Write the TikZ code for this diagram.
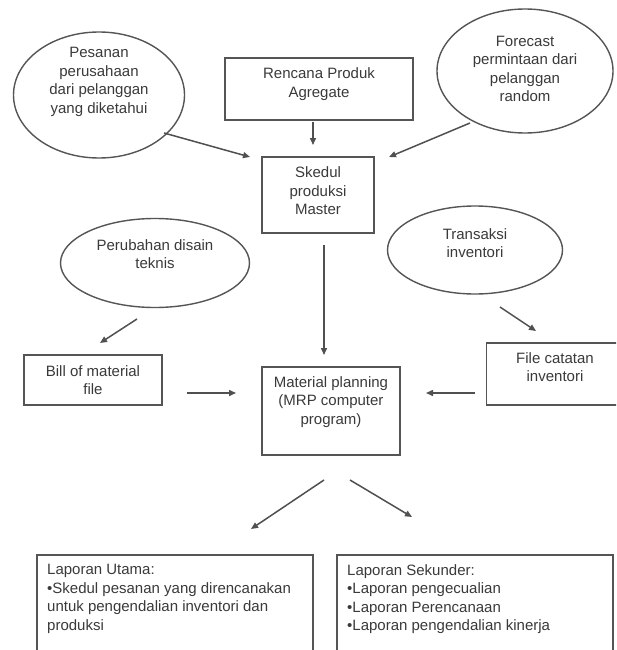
\documentclass[tikz,border=0pt]{standalone}
\usepackage{fontspec}
\setmainfont{Liberation Sans}
\usetikzlibrary{arrows.meta,shapes.geometric}
\definecolor{linec}{HTML}{555555}
\definecolor{arrc}{HTML}{505050}
\definecolor{textc}{HTML}{3A3A3A}
\begin{document}
\begin{tikzpicture}[x=1pt,y=-1pt,
  shp/.style={draw=linec, line width=1.4pt, fill=white},
  ell/.style={shp, ellipse, inner sep=0pt},
  box/.style={shp, rectangle, inner sep=0pt},
  txt/.style={align=center, font=\fontsize{15}{18.5}\selectfont, text=textc, inner sep=0pt},
  ltxt/.style={align=left, font=\fontsize{15}{18.5}\selectfont, text=textc, inner sep=0pt, anchor=north west},
  arr/.style={draw=arrc, line width=1.5pt, -{Triangle[length=7pt,width=6pt]}}
]
\useasboundingbox (0,0) rectangle (616,650);
\fill[white] (0,0) rectangle (616,650);
\clip (0,0) rectangle (616,650);

% shapes
\node[ell, minimum width=171pt, minimum height=126pt] (pesanan) at (99,95) {};
\node[txt] (pesananT) at (99,82) {Pesanan\\perusahaan\\dari pelanggan\\yang diketahui};

\node[box, minimum width=188pt, minimum height=62pt] (rencana) at (319,89) {};
\node[txt] (rencanaT) at (319,84) {Rencana Produk\\Agregate};

\node[ell, minimum width=176pt, minimum height=124pt] (forecast) at (525,71) {};
\node[txt] (forecastT) at (525,69) {Forecast\\permintaan dari\\pelanggan\\random};

\node[box, minimum width=112pt, minimum height=76pt] (skedul) at (318,195) {};
\node[txt] (skedulT) at (318,191) {Skedul\\produksi\\Master};

\node[ell, minimum width=189pt, minimum height=89pt] (perubahan) at (155,263) {};
\node[txt] (perubahanT) at (155,254) {Perubahan disain\\teknis};

\node[ell, minimum width=175pt, minimum height=88pt] (transaksi) at (475,250) {};
\node[txt] (transaksiT) at (475,243) {Transaksi\\inventori};

\node[box, minimum width=138pt, minimum height=50pt] (bill) at (93,380) {};
\node[txt] (billT) at (93,380) {Bill of material\\file};

\node[box, minimum width=138pt, minimum height=88pt] (material) at (331,411) {};
\node[txt] (materialT) at (331,402) {Material planning\\(MRP computer\\program)};

\node[box, minimum width=135pt, minimum height=62pt] (file) at (554,374) {};
\node[txt] (fileT) at (555,367) {File catatan\\inventori};

\node[box, minimum width=276pt, minimum height=110pt] (utama) at (175,610) {};
\node[ltxt] (utamaT) at (47,564) {Laporan Utama:\\\textbullet Skedul pesanan yang direncanakan\\untuk pengendalian inventori dan\\produksi};

\node[box, minimum width=276pt, minimum height=110pt] (sekunder) at (475,610) {};
\node[ltxt] (sekunderT) at (347,564) {Laporan Sekunder:\\\textbullet Laporan pengecualian\\\textbullet Laporan Perencanaan\\\textbullet Laporan pengendalian kinerja};

% connector end points
\coordinate (a1s) at (164,133); \coordinate (a1e) at (250,157);
\coordinate (a2s) at (313,122); \coordinate (a2e) at (313,145);
\coordinate (a3s) at (470,123); \coordinate (a3e) at (389,157);
\coordinate (a4s) at (324,245); \coordinate (a4e) at (324,355);
\coordinate (a5s) at (137,319); \coordinate (a5e) at (100,343);
\coordinate (a6s) at (500,307); \coordinate (a6e) at (536,331);
\coordinate (a7s) at (187,393); \coordinate (a7e) at (236,393);
\coordinate (a8s) at (475,393); \coordinate (a8e) at (426,393);
\coordinate (a9s) at (324,480); \coordinate (a9e) at (251,529);
\coordinate (a10s) at (350,480); \coordinate (a10e) at (412,517);

\draw[arr] (a1s) -- (a1e);
\draw[arr] (a2s) -- (a2e);
\draw[arr] (a3s) -- (a3e);
\draw[arr] (a4s) -- (a4e);
\draw[arr] (a5s) -- (a5e);
\draw[arr] (a6s) -- (a6e);
\draw[arr] (a7s) -- (a7e);
\draw[arr] (a8s) -- (a8e);
\draw[arr] (a9s) -- (a9e);
\draw[arr] (a10s) -- (a10e);
\end{tikzpicture}
\end{document}
